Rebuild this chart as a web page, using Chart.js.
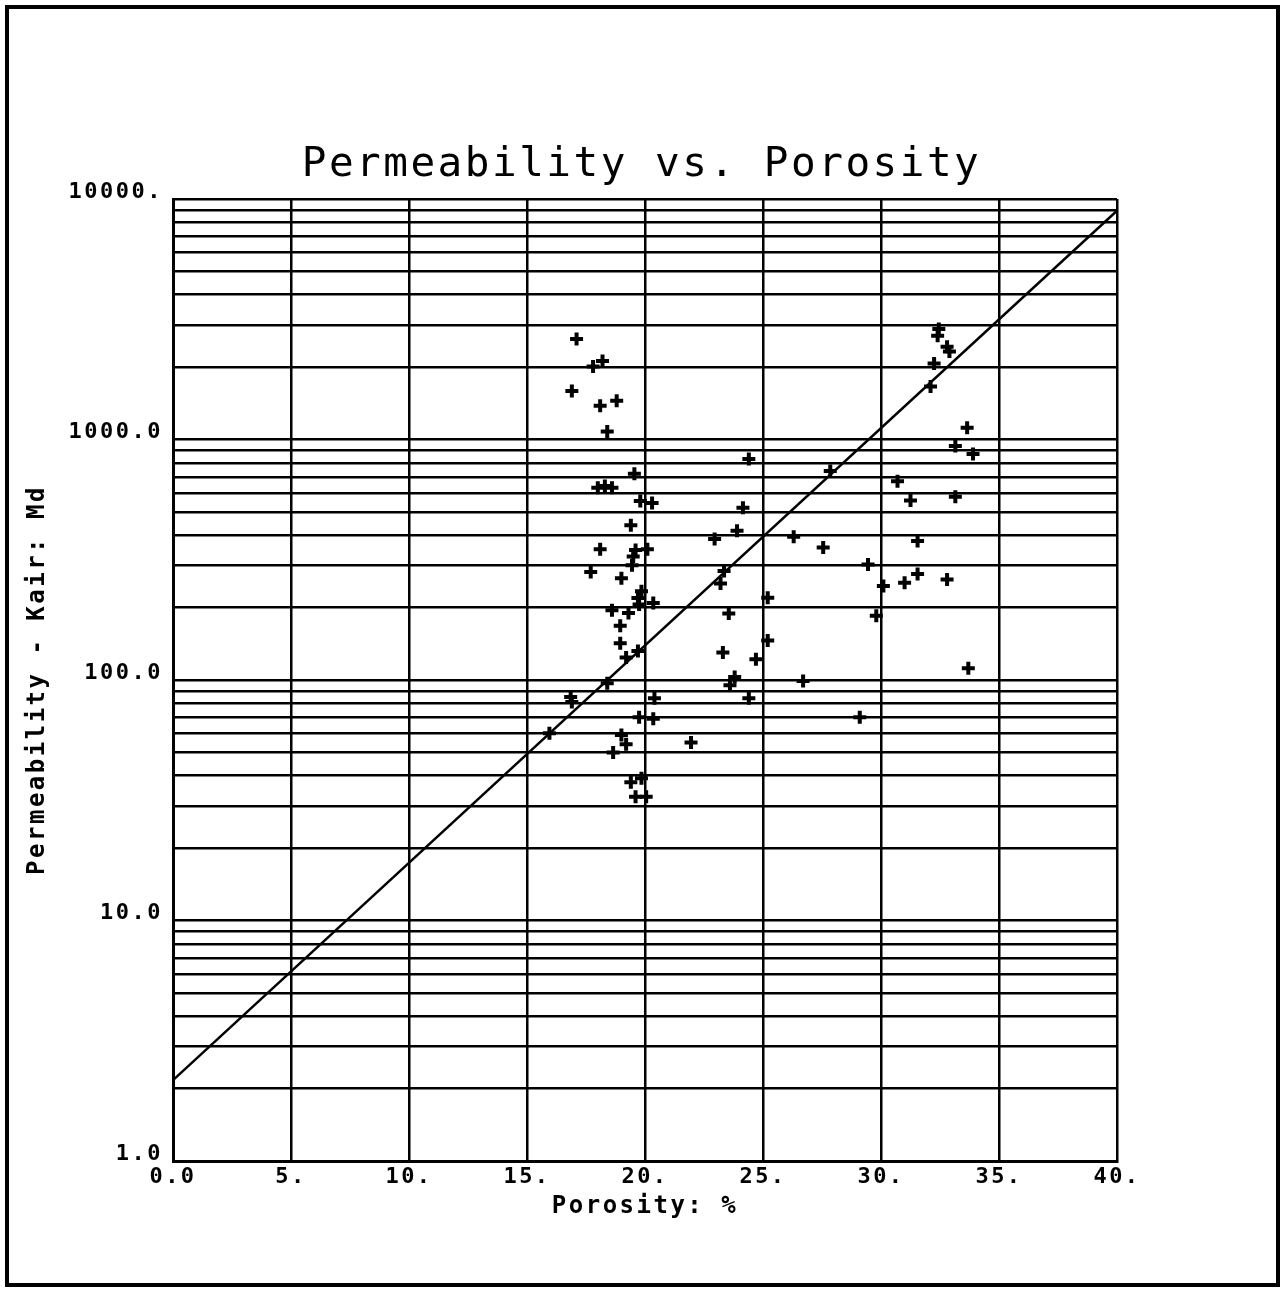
<!DOCTYPE html>
<html><head><meta charset="utf-8">
<script src="https://cdn.jsdelivr.net/npm/chart.js@4.4.0/dist/chart.umd.min.js"></script>
<style>html,body{margin:0;padding:0;background:#fff;}canvas{display:block;}</style>
</head><body>
<canvas id="c" width="1283" height="1291"></canvas>
<script>
const porosity = [
  17.1, 17.8, 18.2, 16.9, 18.1, 18.8, 18.4, 19.55, 18.0, 18.3, 18.6, 19.8, 20.3, 19.4,
  18.1, 19.6, 20.1, 19.5, 19.45, 17.7, 19.0, 19.85, 19.7, 19.75, 20.35, 18.6, 19.3, 18.95,
  18.95, 19.7, 19.2, 18.4, 16.85, 16.9, 20.4, 19.75, 20.35, 15.95, 19.0, 19.2, 21.95, 18.65,
  19.4, 19.85, 19.6, 20.05,
  24.4, 27.85, 30.7, 24.15, 23.9, 22.95, 26.3, 27.55, 29.45, 23.35, 23.2, 30.1, 25.2, 23.55,
  29.8, 25.2, 23.3, 24.7, 23.8, 23.6, 26.7, 24.4, 29.1,
  32.45, 32.4, 32.8, 32.9, 32.25, 32.1, 33.65, 33.15, 33.9, 31.25, 33.15, 31.55, 31.55, 31.0,
  32.8, 33.7
];
const permeability = [
  2620, 2010, 2120, 1590, 1380, 1450, 1080, 720, 630, 640, 630, 555, 545, 440,
  350, 347, 350, 326, 300, 281, 265, 234, 219, 206, 209, 195, 190, 168,
  142, 132, 124, 97, 85, 81, 84, 70, 69, 60, 59, 54, 55, 50,
  37.6, 39, 32.7, 32.7,
  830, 740, 670, 520, 417, 386, 394, 356, 302, 284, 252, 246, 220, 189,
  185, 146, 130, 122, 103, 95, 99, 84, 70,
  2880, 2700, 2430, 2320, 2070, 1660, 1120, 940, 870, 557, 578, 378, 276, 254,
  262, 112
];
const fitPorosity = [0, 40];
const fitPermeability = [2.17, 8940];
const xTickValues = [0, 5, 10, 15, 20, 25, 30, 35, 40];
const xTickLabels = ['0.0', '5.', '10.', '15.', '20.', '25.', '30.', '35.', '40.'];
const yDecades = [1, 10, 100, 1000];
const yMajorValues = [1, 10, 100, 1000, 10000];
const yMajorLabels = ['1.0', '10.0', '100.0', '1000.0', '10000.'];
const chartTitle = 'Permeability vs. Porosity';
const xTitle = 'Porosity: %';
const yTitle = 'Permeability - Kair: Md';

const FONT = "'DejaVu Sans Mono', 'Liberation Mono', monospace";
const spacingPlugin = {
  id: 'spacing',
  beforeUpdate(chart) { chart.ctx.letterSpacing = '2.5px'; },
  beforeLayout(chart) { chart.ctx.letterSpacing = '2.5px'; },
  beforeDraw(chart) { chart.ctx.letterSpacing = '2.5px'; }
};
const framePlugin = {
  id: 'frame',
  afterDraw(chart) {
    const ctx = chart.ctx;
    ctx.save();
    ctx.strokeStyle = '#000';
    ctx.lineWidth = 4;
    ctx.strokeRect(7, 7, 1271, 1278);
    ctx.restore();
  }
};

const gridOpts = { color: '#000', lineWidth: 2.5, drawTicks: false };
const borderOpts = { display: true, color: '#000', width: 3 };

new Chart(document.getElementById('c'), {
  type: 'scatter',
  data: {
    datasets: [
      {
        label: 'samples',
        data: porosity.map((p, i) => ({ x: p, y: permeability[i] })),
        pointStyle: 'cross',
        pointRadius: 6.5,
        pointHoverRadius: 6.5,
        pointBorderWidth: 4,
        borderColor: '#000',
        backgroundColor: '#000'
      },
      {
        type: 'line',
        label: 'fit',
        data: fitPorosity.map((p, i) => ({ x: p, y: fitPermeability[i] })),
        borderColor: '#000',
        borderWidth: 2.5,
        pointRadius: 0,
        fill: false,
        tension: 0
      }
    ]
  },
  options: {
    responsive: false,
    animation: false,
    events: [],
    layout: { padding: { left: 0, top: 0, right: 0, bottom: 0 } },
    plugins: {
      legend: { display: false },
      tooltip: { enabled: false },
      title: {
        display: true,
        text: chartTitle,
        color: '#000',
        font: { family: FONT, size: 41, weight: 'normal', lineHeight: 1.2 },
        padding: { top: 141, bottom: 8.8 }
      }
    },
    scales: {
      x: {
        type: 'linear',
        min: 0, max: 40,
        afterBuildTicks(scale) { scale.ticks = xTickValues.map(v => ({ value: v })); },
        afterFit(scale) { scale.height = 130; },
        ticks: {
          autoSkip: false, maxRotation: 0, minRotation: 0, padding: 3,
          color: '#000',
          font: { family: FONT, size: 22, weight: 'bold' },
          callback(v) { const i = xTickValues.indexOf(v); return i >= 0 ? xTickLabels[i] : ''; }
        },
        grid: gridOpts,
        border: borderOpts,
        title: {
          display: true, text: xTitle, color: '#000',
          font: { family: FONT, size: 24, weight: 'bold', lineHeight: 1.2 },
          padding: { top: 0, bottom: 70 }
        }
      },
      y: {
        type: 'logarithmic',
        min: 1, max: 10000,
        afterBuildTicks(scale) {
          const t = [];
          yDecades.forEach(d => { for (let m = 1; m <= 9; m++) t.push({ value: d * m }); });
          t.push({ value: 10000 });
          scale.ticks = t;
        },
        afterFit(scale) { scale.width = 173; },
        ticks: {
          autoSkip: false, padding: 10, labelOffset: -7,
          color: '#000',
          font: { family: FONT, size: 22, weight: 'bold' },
          callback(v) { const i = yMajorValues.indexOf(v); return i >= 0 ? yMajorLabels[i] : ''; }
        },
        grid: gridOpts,
        border: borderOpts,
        title: {
          display: true, text: yTitle, color: '#000',
          font: { family: FONT, size: 24, weight: 'bold', lineHeight: 1.2 },
          padding: { top: 23, bottom: 0 }
        }
      },
      yRight: {
        type: 'logarithmic',
        position: 'right',
        min: 1, max: 10000,
        afterFit(scale) { scale.width = 166; },
        ticks: { display: false },
        grid: { display: false, drawTicks: false },
        border: { display: false }
      }
    }
  },
  plugins: [spacingPlugin, framePlugin]
});
</script>
</body></html>
